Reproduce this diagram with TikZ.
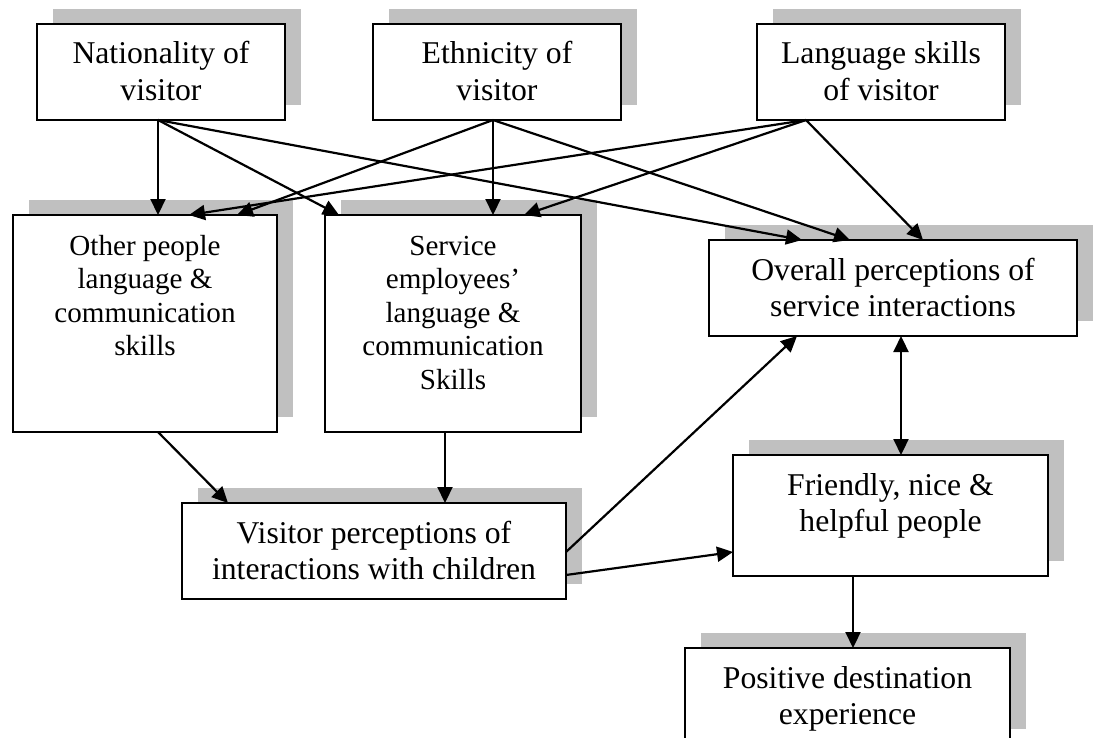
\documentclass[tikz,border=0pt]{standalone}
\usepackage{fontspec}
\setmainfont{Liberation Serif}
\usetikzlibrary{arrows.meta,shadows}
\definecolor{shadowgray}{RGB}{192,192,192}
% top-aligned, centred lines inside a box of given width and height
\newcommand{\boxlines}[3]{\parbox[c][#2][t]{#1}{\centering\rule{0pt}{40pt}#3\par}}
\begin{document}
\begin{tikzpicture}[x=1pt,y=-1pt,
  box/.style={draw, fill=white, line width=2.2pt, inner sep=0pt, outer sep=0pt,
    general shadow={fill=shadowgray, shadow xshift=16pt, shadow yshift=15pt}},
  bigtext/.style={font=\fontsize{31.7}{36.5}\selectfont},
  smalltext/.style={font=\fontsize{29.1}{33.5}\selectfont},
  tip/.style={Triangle[length=16pt,width=15pt]},
  link/.style={line width=2.2pt, -{Triangle[length=16pt,width=15pt]}},
  twoway/.style={line width=2.2pt, {Triangle[length=16pt,width=15pt]}-{Triangle[length=16pt,width=15pt]}}]
\useasboundingbox (0,0) rectangle (1099,738);
\clip (0,0) rectangle (1099,738);

% visitor characteristics
\node[box,bigtext] (nat)  at (161,72) {\boxlines{248pt}{96pt}{Nationality of\\visitor}};
\node[box,bigtext] (eth)  at (497,72) {\boxlines{248pt}{96pt}{Ethnicity of\\visitor}};
\node[box,bigtext] (lang) at (881,72) {\boxlines{248pt}{96pt}{Language skills\\of visitor}};

% communication skills
\node[box,smalltext] (other) at (145,323.5) {\boxlines{264pt}{217pt}{Other people\\language \&\\communication\\skills}};
\node[box,smalltext] (serv)  at (453,323.5) {\boxlines{256pt}{217pt}{Service\\employees’\\language \&\\communication\\Skills}};

% perceptions and outcomes
\node[box,bigtext] (overall)  at (893,288)     {\boxlines{368pt}{96pt}{Overall perceptions of\\service interactions}};
\node[box,bigtext] (visitor)  at (374,551)     {\boxlines{384pt}{96pt}{Visitor perceptions of\\interactions with children}};
\node[box,bigtext] (friendly) at (890.5,515.5) {\boxlines{315pt}{121pt}{Friendly, nice \&\\helpful people}};
\node[box,bigtext] (positive) at (847.5,696)   {\boxlines{325pt}{96pt}{Positive destination\\experience}};

% links from the visitor characteristics
\draw[link] ([xshift=-3pt]nat.south) -- ([xshift=13pt]other.north);
\draw[link] ([xshift=-3pt]nat.south) -- ([xshift=-114pt]serv.north);
\draw[link] ([xshift=-3pt]nat.south) -- ([xshift=-91pt]overall.north);
\draw[link] ([xshift=-4pt]eth.south) -- ([xshift=92pt]other.north);
\draw[link] ([xshift=-4pt]eth.south) -- ([xshift=40pt]serv.north);
\draw[link] ([xshift=-4pt]eth.south) -- ([xshift=-43pt]overall.north);
\draw[link] ([xshift=-75pt]lang.south) -- ([xshift=44pt]other.north);
\draw[link] ([xshift=-75pt]lang.south) -- ([xshift=71pt]serv.north);
\draw[link] ([xshift=-75pt]lang.south) -- ([xshift=30pt]overall.north);

% lower links
\draw[link] ([xshift=13pt]other.south) -- ([xshift=-146pt]visitor.north);
\draw[link] ([xshift=-8pt]serv.south) -- ([xshift=71pt]visitor.north);
\draw[link] ([yshift=-1pt]visitor.east) -- ([xshift=-96pt]overall.south);
\draw[link] ([yshift=-24pt]visitor.east) -- ([yshift=-36.5pt]friendly.west);
\draw[twoway] ([xshift=8pt]overall.south) -- ([xshift=10.5pt]friendly.north);
\draw[link] ([xshift=-37.5pt]friendly.south) -- ([xshift=5.5pt]positive.north);
\end{tikzpicture}
\end{document}
